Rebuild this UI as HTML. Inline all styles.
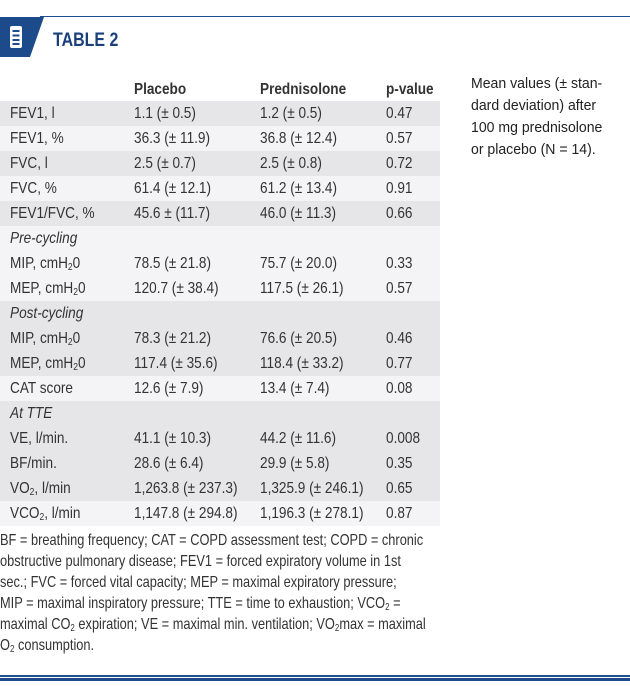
<!DOCTYPE html>
<html><head><meta charset="utf-8"><style>
body{margin:0;width:630px;height:686px;background:#fff;position:relative;overflow:hidden;font-family:"Liberation Sans",sans-serif;color:#333;}
.a{position:absolute;white-space:nowrap}
.row{position:absolute;left:0;width:440px;height:25px;font-size:16px;line-height:25px}
.row span{position:absolute;top:0;transform:scaleX(0.85);transform-origin:0 0;white-space:nowrap}
.g{background:#e6e6e9}.l{background:#f4f4f6}
.c1{left:10px}.c2{left:134px}.c3{left:260px}.c4{left:386px}
i{font-style:italic}
sub{font-size:10px;vertical-align:-2px;line-height:0}
.fl{position:absolute;left:0;font-size:16px;line-height:21px;transform:scaleX(0.8);transform-origin:0 0;white-space:nowrap}
.nl{position:absolute;left:471px;font-size:14.5px;line-height:22px;color:#222;white-space:nowrap;transform:scaleX(0.97);transform-origin:0 0}
</style></head><body>
<div class="a" style="left:40px;top:16px;width:590px;height:1px;background:#1f4e8c"></div>
<svg class="a" style="left:0;top:17px" width="46" height="41"><polygon points="0,0 44,0 30,40 0,40" fill="#1d4a8a"/>
<rect x="10" y="9" width="12" height="22" rx="2" fill="#fff"/>
<rect x="12.5" y="13" width="7" height="2" fill="#1d4a8a"/><rect x="12.5" y="17.5" width="7" height="2" fill="#1d4a8a"/><rect x="12.5" y="22" width="7" height="2" fill="#1d4a8a"/><rect x="12.5" y="26" width="7" height="2" fill="#1d4a8a"/></svg>
<div class="a" style="left:53px;top:30px;font-size:19px;font-weight:bold;color:#1b3f7a;transform:scaleX(0.84);transform-origin:0 0">TABLE 2</div>
<div class="row" style="top:77px;font-weight:bold"><span class="c2">Placebo</span><span class="c3">Prednisolone</span><span class="c4">p-value</span></div>
<div class="row g" style="top:101px"><span class="c1">FEV1, l</span><span class="c2">1.1 (± 0.5)</span><span class="c3">1.2 (± 0.5)</span><span class="c4">0.47</span></div>
<div class="row l" style="top:126px"><span class="c1">FEV1, %</span><span class="c2">36.3 (± 11.9)</span><span class="c3">36.8 (± 12.4)</span><span class="c4">0.57</span></div>
<div class="row g" style="top:151px"><span class="c1">FVC, l</span><span class="c2">2.5 (± 0.7)</span><span class="c3">2.5 (± 0.8)</span><span class="c4">0.72</span></div>
<div class="row l" style="top:176px"><span class="c1">FVC, %</span><span class="c2">61.4 (± 12.1)</span><span class="c3">61.2 (± 13.4)</span><span class="c4">0.91</span></div>
<div class="row g" style="top:201px"><span class="c1">FEV1/FVC, %</span><span class="c2">45.6 ± (11.7)</span><span class="c3">46.0 (± 11.3)</span><span class="c4">0.66</span></div>
<div class="row l" style="top:226px"><span class="c1"><i>Pre-cycling</i></span></div>
<div class="row l" style="top:251px"><span class="c1">MIP, cmH<sub>2</sub>0</span><span class="c2">78.5 (± 21.8)</span><span class="c3">75.7 (± 20.0)</span><span class="c4">0.33</span></div>
<div class="row l" style="top:276px"><span class="c1">MEP, cmH<sub>2</sub>0</span><span class="c2">120.7 (± 38.4)</span><span class="c3">117.5 (± 26.1)</span><span class="c4">0.57</span></div>
<div class="row g" style="top:301px"><span class="c1"><i>Post-cycling</i></span></div>
<div class="row g" style="top:326px"><span class="c1">MIP, cmH<sub>2</sub>0</span><span class="c2">78.3 (± 21.2)</span><span class="c3">76.6 (± 20.5)</span><span class="c4">0.46</span></div>
<div class="row g" style="top:351px"><span class="c1">MEP, cmH<sub>2</sub>0</span><span class="c2">117.4 (± 35.6)</span><span class="c3">118.4 (± 33.2)</span><span class="c4">0.77</span></div>
<div class="row l" style="top:376px"><span class="c1">CAT score</span><span class="c2">12.6 (± 7.9)</span><span class="c3">13.4 (± 7.4)</span><span class="c4">0.08</span></div>
<div class="row g" style="top:401px"><span class="c1"><i>At TTE</i></span></div>
<div class="row g" style="top:426px"><span class="c1">VE, l/min.</span><span class="c2">41.1 (± 10.3)</span><span class="c3">44.2 (± 11.6)</span><span class="c4">0.008</span></div>
<div class="row g" style="top:451px"><span class="c1">BF/min.</span><span class="c2">28.6 (± 6.4)</span><span class="c3">29.9 (± 5.8)</span><span class="c4">0.35</span></div>
<div class="row g" style="top:476px"><span class="c1">VO<sub>2</sub>, l/min</span><span class="c2">1,263.8 (± 237.3)</span><span class="c3">1,325.9 (± 246.1)</span><span class="c4">0.65</span></div>
<div class="row l" style="top:501px"><span class="c1">VCO<sub>2</sub>, l/min</span><span class="c2">1,147.8 (± 294.8)</span><span class="c3">1,196.3 (± 278.1)</span><span class="c4">0.87</span></div>
<div class="fl" style="top:530px">BF = breathing frequency; CAT = COPD assessment test; COPD = chronic</div>
<div class="fl" style="top:551px">obstructive pulmonary disease; FEV1 = forced expiratory volume in 1st</div>
<div class="fl" style="top:572px">sec.; FVC = forced vital capacity; MEP = maximal expiratory pressure;</div>
<div class="fl" style="top:593px">MIP = maximal inspiratory pressure; TTE = time to exhaustion; VCO<sub>2</sub> =</div>
<div class="fl" style="top:614px">maximal CO<sub>2</sub> expiration; VE = maximal min. ventilation; VO<sub>2</sub>max = maximal</div>
<div class="fl" style="top:635px">O<sub>2</sub> consumption.</div>
<div class="nl" style="top:73px">Mean values (± stan-</div>
<div class="nl" style="top:95px">dard deviation) after</div>
<div class="nl" style="top:117px">100 mg prednisolone</div>
<div class="nl" style="top:139px">or placebo (N = 14).</div>
<div class="a" style="left:0;top:675px;width:630px;height:2px;background:#1f4e8c"></div>
<div class="a" style="left:0;top:678px;width:630px;height:3px;background:#1d4a8a"></div>
</body></html>
